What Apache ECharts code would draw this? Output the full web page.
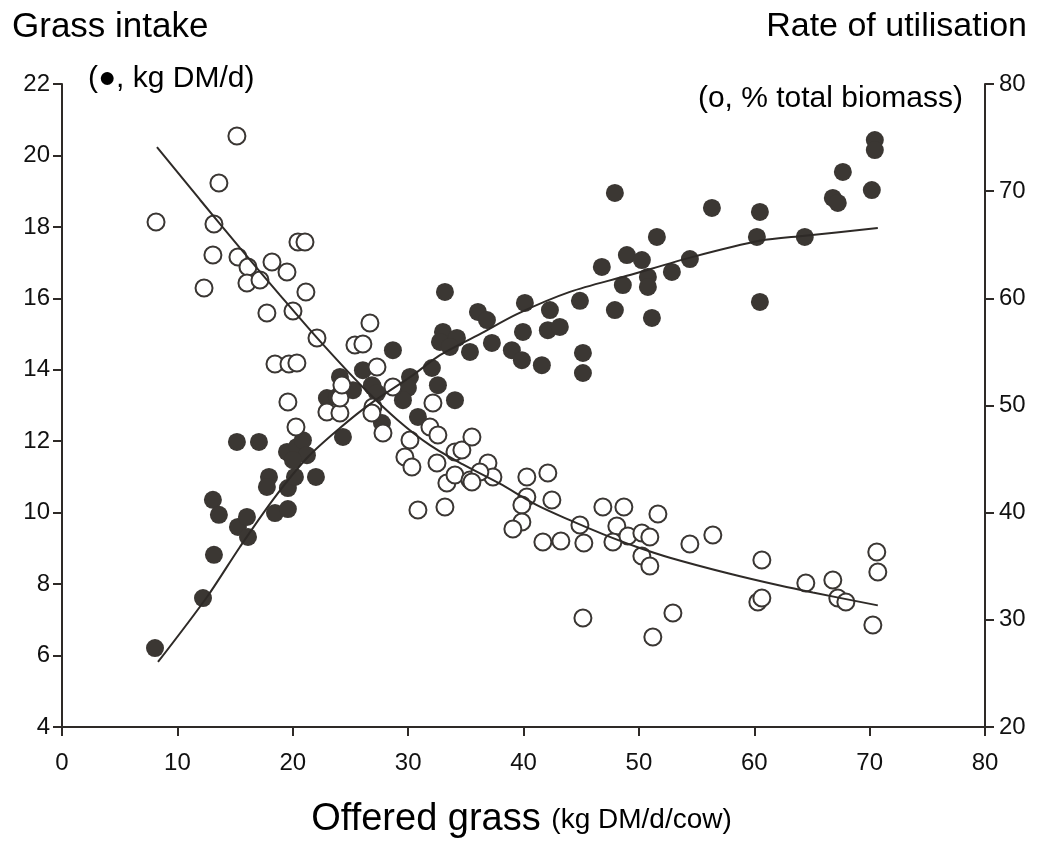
<!DOCTYPE html>
<html>
<head>
<meta charset="utf-8">
<script src="https://cdn.jsdelivr.net/npm/echarts@6/dist/echarts.min.js"></script>
<style>
  html, body { margin: 0; padding: 0; background: #fff; }
  #chart { width: 1043px; height: 842px; }
</style>
</head>
<body>
<div id="chart"></div>
<script>
// filled dots: grass intake (kg DM/d), left axis
const intakeX = [8.06, 12.22, 13.17, 13.08, 13.60, 15.16, 17.07, 15.25, 16.03, 16.12,
  17.94, 17.76, 18.46, 19.58, 19.58, 20.19, 22.01, 19.50, 20.36, 20.88,
  21.23, 20.02, 24.35, 22.96, 25.22, 26.95, 33.19, 36.05, 36.83, 40.12,
  42.29, 39.95, 42.11, 43.15, 37.26, 38.99, 39.86, 41.59, 33.02, 32.76,
  34.23, 35.36, 33.62, 28.68, 32.06, 32.58, 30.16, 29.98, 29.55, 34.06,
  30.85, 26.86, 26.08, 27.30, 24.09, 23.83, 27.73, 47.92, 56.33, 60.49,
  51.56, 48.96, 50.26, 46.79, 48.61, 50.78, 50.78, 52.86, 54.42, 60.23,
  64.38, 44.89, 47.92, 51.13, 60.49, 45.15, 45.15, 67.68, 66.81, 67.24,
  70.45, 70.45, 70.19];
const intakeY = [6.21, 7.61, 8.82, 10.36, 9.94, 11.98, 11.98, 9.60, 9.88, 9.32,
  11.00, 10.72, 9.99, 10.10, 10.69, 11.00, 11.00, 11.70, 11.84, 12.03,
  11.61, 11.47, 12.12, 13.21, 13.43, 13.52, 16.18, 15.62, 15.39, 15.87,
  15.67, 15.06, 15.11, 15.20, 14.75, 14.55, 14.27, 14.13, 15.06, 14.78,
  14.89, 14.50, 14.64, 14.55, 14.05, 13.57, 13.80, 13.49, 13.15, 13.15,
  12.68, 13.57, 13.99, 13.35, 13.80, 13.24, 12.51, 18.95, 18.53, 18.42,
  17.72, 17.21, 17.07, 16.88, 16.37, 16.60, 16.32, 16.74, 17.10, 17.72,
  17.72, 15.93, 15.67, 15.45, 15.90, 14.47, 13.91, 19.54, 18.81, 18.67,
  20.43, 20.15, 19.03];

// open circles: rate of utilisation (% total biomass), right axis
const utilX = [15.16, 13.60, 8.15, 13.17, 20.45, 21.06, 13.08, 15.25, 16.12, 18.20,
  19.50, 12.31, 16.03, 17.16, 21.14, 17.76, 20.02, 22.10, 25.39, 26.08,
  26.69, 18.46, 19.67, 20.36, 19.58, 20.28, 22.96, 24.09, 24.09, 24.26,
  27.30, 28.68, 26.95, 26.86, 27.82, 30.16, 29.72, 30.33, 31.89, 32.15,
  32.58, 32.50, 34.06, 34.66, 35.53, 33.36, 34.06, 35.36, 36.92, 37.35,
  36.22, 30.85, 33.19, 40.29, 42.11, 40.29, 42.46, 39.86, 39.86, 35.53,
  39.08, 41.68, 43.24, 44.89, 45.23, 46.88, 48.70, 48.09, 47.75, 49.05,
  50.26, 50.95, 51.65, 50.26, 50.95, 54.42, 56.41, 45.15, 52.95, 51.21,
  60.66, 60.31, 60.66, 64.47, 66.81, 67.24, 67.94, 70.62, 70.71, 70.28];
const utilY = [75.15, 70.76, 67.12, 66.94, 65.26, 65.26, 64.04, 63.86, 62.92, 63.39,
  62.46, 60.96, 61.43, 61.71, 60.59, 58.63, 58.82, 56.30, 55.64, 55.74,
  57.70, 53.87, 53.87, 53.96, 50.33, 47.99, 49.39, 49.30, 50.70, 51.91,
  53.59, 51.73, 49.86, 49.30, 47.43, 46.78, 45.19, 44.26, 47.99, 50.23,
  47.25, 44.63, 45.66, 45.85, 47.06, 42.77, 43.51, 43.05, 44.63, 43.33,
  43.79, 40.25, 40.53, 43.33, 43.70, 41.46, 41.18, 40.71, 39.13, 42.86,
  38.48, 37.26, 37.36, 38.85, 37.17, 40.53, 40.53, 38.76, 37.26, 37.82,
  38.10, 37.73, 39.87, 35.96, 35.02, 37.08, 37.92, 30.17, 30.64, 28.40,
  35.58, 31.66, 32.04, 33.44, 33.72, 32.04, 31.66, 36.33, 34.46, 29.52];

// fitted curves
const intakeFitX = [8.32, 12.57, 15.42, 18.28, 21.23, 24.09, 26.69, 30.42, 32.76, 36.22,
  39.43, 44.02, 48.96, 54.68, 60.49, 64.38, 70.71];
const intakeFitY = [5.82, 7.64, 9.04, 10.36, 11.53, 12.37, 13.04, 13.85, 14.41, 15.00,
  15.56, 16.18, 16.63, 17.16, 17.61, 17.75, 17.97];
const utilFitX = [8.23, 11.96, 15.42, 18.89, 22.36, 26.08, 29.03, 31.89, 34.75, 37.95,
  41.16, 44.02, 46.88, 49.83, 52.69, 57.89, 62.22, 65.08, 70.71];
const utilFitY = [74.12, 69.2, 64.7, 60.3, 56.0, 51.7, 48.7, 46.3, 44.5, 42.7,
  40.7, 39.3, 38.0, 36.8, 35.8, 34.3, 33.2, 32.55, 31.35];

const xTicks = [0, 10, 20, 30, 40, 50, 60, 70, 80];

const zip = (xs, ys) => xs.map((x, i) => [x, ys[i]]);

const ink = '#2e2a27';
const font = 'Liberation Sans, Arial, sans-serif';

const chart = echarts.init(document.getElementById('chart'));

const axisCommon = {
  axisLine: { show: true, onZero: false, lineStyle: { color: ink, width: 2 } },
  axisTick: { show: true, inside: false, length: 9, lineStyle: { color: ink, width: 2 } },
  splitLine: { show: false },
  axisLabel: { color: '#111', fontSize: 24, fontFamily: font }
};

chart.setOption({
  backgroundColor: '#fff',
  animation: false,
  grid: { left: 62, right: 58, top: 84, bottom: 115 },
  xAxis: Object.assign({}, axisCommon, {
    type: 'value', min: xTicks[0], max: xTicks[xTicks.length - 1], interval: 10,
    axisLabel: Object.assign({}, axisCommon.axisLabel, { margin: 24 })
  }),
  yAxis: [
    Object.assign({}, axisCommon, {
      type: 'value', position: 'left', min: 4, max: 22, interval: 2,
      axisLabel: Object.assign({}, axisCommon.axisLabel, { margin: 12 })
    }),
    Object.assign({}, axisCommon, {
      type: 'value', position: 'right', min: 20, max: 80, interval: 10,
      axisLabel: Object.assign({}, axisCommon.axisLabel, { margin: 14 })
    })
  ],
  series: [
    {
      name: 'Grass intake', type: 'scatter', yAxisIndex: 0, z: 2,
      symbol: 'circle', symbolSize: 18,
      itemStyle: { color: '#3b3733', opacity: 1 },
      data: zip(intakeX, intakeY)
    },
    {
      name: 'Rate of utilisation', type: 'scatter', yAxisIndex: 1, z: 3,
      symbol: 'circle', symbolSize: 17,
      itemStyle: { color: '#fff', borderColor: '#3a3633', borderWidth: 2, opacity: 1 },
      data: zip(utilX, utilY)
    },
    {
      name: 'intake fit', type: 'line', yAxisIndex: 0, z: 4,
      smooth: 0.3, showSymbol: false, symbol: 'none',
      lineStyle: { color: ink, width: 2 },
      data: zip(intakeFitX, intakeFitY)
    },
    {
      name: 'utilisation fit', type: 'line', yAxisIndex: 1, z: 4,
      smooth: 0.3, showSymbol: false, symbol: 'none',
      lineStyle: { color: ink, width: 2 },
      data: zip(utilFitX, utilFitY)
    }
  ],
  graphic: [
    { type: 'text', left: 12, top: 10,
      style: { text: 'Grass intake', font: '35px ' + font, fill: '#000' } },
    { type: 'text', left: 88, top: 64,
      style: { text: '(●, kg DM/d)', font: '30px ' + font, fill: '#000' } },
    { type: 'text', right: 16, top: 10,
      style: { text: 'Rate of utilisation', font: '34px ' + font, fill: '#000' } },
    { type: 'text', right: 80, top: 84,
      style: { text: '(o, % total biomass)', font: '30px ' + font, fill: '#000' } },
    { type: 'text', left: 'center', top: 801,
      style: {
        text: '{a|Offered grass }{b|(kg DM/d/cow)}',
        rich: {
          a: { font: '38px ' + font, fill: '#000' },
          b: { font: '28px ' + font, fill: '#000' }
        }
      } }
  ]
});
</script>
</body>
</html>
